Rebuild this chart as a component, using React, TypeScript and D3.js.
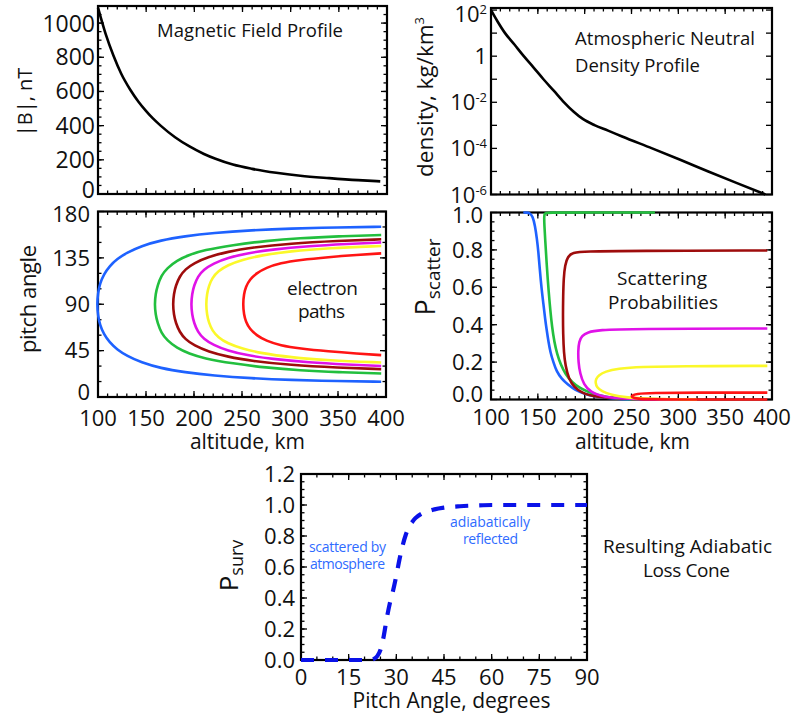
import React from "react";
import * as d3 from "d3";

// ---------------- data ----------------
// Magnetic field profile
const bAltitude = [100, 108, 116, 124, 133.5, 142, 150, 157, 165, 180, 195, 210, 222, 240, 260, 285, 310, 340, 370, 393];
const bField = [1090, 935, 810, 705, 610, 540, 485, 442, 400, 332, 278, 234, 206, 172, 147, 124, 107, 93, 81, 74];

// Atmospheric neutral density profile (kg/km^3)
const rhoAltitude = [100, 107, 115, 125, 135, 145.5, 156, 167, 178, 188, 198, 211, 225, 240, 272, 302, 332, 362, 393];
const rhoDensity = [1e2, 3.2e1, 1e1, 3.2e0, 1e0, 3.2e-1, 1e-1, 3.2e-2, 1e-2, 4e-3, 1.9e-3, 1e-3, 5.9e-4, 3.3e-4, 1e-4, 3.2e-5, 1e-5, 3.2e-6, 1e-6];

// Electron paths (altitude, upper-branch pitch, lower-branch pitch)
const blueAlt = [99, 100, 102, 106, 112, 120, 130, 145, 165, 190, 220, 260, 300, 350, 395];
const blueUp = [90, 101, 110, 119, 127, 134, 140, 146.5, 152, 156, 159.2, 161.9, 163.5, 164.6, 165.2];
const blueLo = [90, 79, 70, 61, 53, 46, 40, 33.5, 28, 24, 20.8, 18.1, 16.5, 15.4, 14.8];

const greenAlt = [159, 160, 162, 166, 172, 182, 195, 210, 240, 275, 310, 350, 395];
const greenUp = [90, 100, 108, 118, 125, 132.5, 138, 142.5, 147.5, 151.5, 154.2, 156, 157.2];
const greenLo = [90, 80, 72, 62, 55, 47.5, 42, 37.5, 32.5, 28.5, 25.8, 24, 22.8];

const darkredAlt = [178, 179, 181, 185, 191, 200, 215, 235, 260, 300, 350, 395];
const darkredUp = [90, 100, 108, 117, 124, 130, 136, 141, 145, 149, 151.5, 153];
const darkredLo = [90, 80, 72, 63, 56, 50, 44, 39, 35, 31, 28.5, 27];

const magentaAlt = [197, 198, 200, 204, 210, 220, 235, 255, 280, 320, 360, 395];
const magentaUp = [90, 100, 108, 117, 123.5, 129.5, 135, 139.5, 143, 146.5, 148.5, 150];
const magentaLo = [90, 80, 72, 63, 56.5, 50.5, 45, 40.5, 37, 33.5, 31.5, 30];

const yellowAlt = [212.5, 213.5, 215.5, 219, 225, 235, 250, 270, 300, 340, 395];
const yellowUp = [90, 100, 108, 115.5, 122, 128, 133, 137.5, 141.5, 144.5, 146.5];
const yellowLo = [90, 80, 72, 64.5, 58, 52, 47, 42.5, 38.5, 35.5, 33.5];

const redAlt = [251, 252, 254, 258, 265, 275, 290, 310, 340, 370, 395];
const redUp = [90, 100, 107, 114, 120, 125.5, 130, 133, 135.8, 137.9, 139.4];
const redLo = [90, 80, 73, 66, 60, 54.5, 50, 47, 44.2, 42.1, 40.6];

// Scattering probabilities along each path
const sBlueAlt = [250, 230, 211, 200, 190, 182, 175.5, 170, 166.6, 163.5, 161.3, 159.5, 157.8, 156, 154, 152, 150.6, 149, 147, 144.5, 141.5, 138, 134.5];
const sBlueP = [0, 0.004, 0.015, 0.03, 0.05, 0.08, 0.11, 0.15, 0.2, 0.25, 0.31, 0.37, 0.43, 0.51, 0.59, 0.7, 0.79, 0.86, 0.93, 0.98, 0.997, 1.0, 1.0];

const sGreenAlt = [260, 235, 215, 193, 179, 170, 165, 161.3, 159.5, 157.8, 157, 156.7, 157.2, 159, 200, 275];
const sGreenP = [0, 0.004, 0.02, 0.06, 0.13, 0.24, 0.38, 0.59, 0.72, 0.86, 0.93, 0.975, 0.995, 1.0, 1.0, 1.0];

const sDarkredAlt = [300, 240, 210, 197, 189, 183, 179.5, 177.8, 177, 176.8, 177, 177.6, 179, 182, 187, 200, 250, 395];
const sDarkredP = [0, 0.003, 0.015, 0.035, 0.065, 0.11, 0.18, 0.25, 0.35, 0.45, 0.55, 0.65, 0.72, 0.765, 0.785, 0.792, 0.795, 0.797];

const sMagentaAlt = [300, 250, 220, 206, 199, 195, 193.3, 193, 194, 197, 203, 215, 250, 395];
const sMagentaP = [0, 0.002, 0.012, 0.04, 0.08, 0.14, 0.2, 0.26, 0.31, 0.34, 0.36, 0.372, 0.378, 0.38];

const sYellowAlt = [320, 270, 245, 228, 218, 213, 211.5, 212, 215, 222, 235, 260, 300, 395];
const sYellowP = [0, 0.003, 0.01, 0.025, 0.045, 0.065, 0.09, 0.11, 0.13, 0.15, 0.165, 0.175, 0.178, 0.18];

const sRedAlt = [395, 300, 270, 256, 250, 250.5, 255, 270, 320, 395];
const sRedP = [0, 0, 0.001, 0.004, 0.012, 0.022, 0.03, 0.035, 0.037, 0.037];

// Survival probability vs pitch angle
const survAngle = [0, 5, 10, 15, 20, 22, 23, 24, 25, 26, 27, 28, 29, 30, 31, 32, 33, 34, 35, 36, 38, 40, 42, 45, 50, 55, 60, 70, 80, 90];
const survP = [0, 0, 0, 0, 0, 0.002, 0.008, 0.025, 0.065, 0.15, 0.27, 0.37, 0.45, 0.545, 0.65, 0.74, 0.81, 0.86, 0.89, 0.915, 0.945, 0.96, 0.972, 0.983, 0.992, 0.997, 1.0, 1.0, 1.0, 1.0];

// Tick values
const bTicks = [0, 200, 400, 600, 800, 1000];
const rhoExponents = [2, 0, -2, -4, -6];
const pitchTicks = [0, 45, 90, 135, 180];
const altTicks = [100, 150, 200, 250, 300, 350, 400];
const pTicks = [0, 0.2, 0.4, 0.6, 0.8, 1.0];
const survTicks = [0, 0.2, 0.4, 0.6, 0.8, 1.0, 1.2];
const angleTicks = [0, 15, 30, 45, 60, 75, 90];

// ---------------- styles ----------------
const FONT = "'Open Sans', 'Noto Sans', 'DejaVu Sans', sans-serif";
const COLORS = {
  blue: "#1e62ff",
  green: "#22bf3e",
  darkred: "#9e0c0c",
  magenta: "#e012e8",
  yellow: "#fbf82a",
  red: "#ff1414",
};
const ANNOT = "#2f6bff";

// ---------------- scales ----------------
const xTL = d3.scaleLinear().domain([100, 400]).range([98, 387]);
const yTL = d3.scaleLinear().domain([0, 1100]).range([194, 6]);
const xTR = d3.scaleLinear().domain([100, 400]).range([491, 772]);
const yTR = d3.scaleLog().domain([1e-6, 123]).range([194.5, 8]);
const xML = d3.scaleLinear().domain([100, 400]).range([98, 386]);
const yML = d3.scaleLinear().domain([0, 180]).range([397, 211.5]);
const xMR = d3.scaleLinear().domain([100, 400]).range([491, 772]);
const yMR = d3.scaleLinear().domain([0, 1]).range([399.5, 212.5]);
const xB = d3.scaleLinear().domain([0, 90]).range([301, 587]);
const yB = d3.scaleLinear().domain([0, 1.2]).range([660, 474]);

type Sc = (v: number) => number;

function Frame(props: {
  x: any; y: any; xMajor: number[]; xMinor: number[]; yMajor: number[]; yMinor: number[];
}) {
  const { x, y, xMajor, xMinor, yMajor, yMinor } = props;
  const [x0, x1] = x.range();
  const [y1, y0] = y.range();
  const M = 6, m = 3.5;
  const els: any[] = [];
  xMinor.forEach((v, i) => {
    const px = x(v);
    els.push(<line key={"xn" + i} x1={px} x2={px} y1={y1} y2={y1 - m} />);
    els.push(<line key={"xnt" + i} x1={px} x2={px} y1={y0} y2={y0 + m} />);
  });
  xMajor.forEach((v, i) => {
    const px = x(v);
    els.push(<line key={"xm" + i} x1={px} x2={px} y1={y1} y2={y1 - M} />);
    els.push(<line key={"xmt" + i} x1={px} x2={px} y1={y0} y2={y0 + M} />);
  });
  yMinor.forEach((v, i) => {
    const py = y(v);
    els.push(<line key={"yn" + i} x1={x0} x2={x0 + m} y1={py} y2={py} />);
    els.push(<line key={"ynr" + i} x1={x1} x2={x1 - m} y1={py} y2={py} />);
  });
  yMajor.forEach((v, i) => {
    const py = y(v);
    els.push(<line key={"ym" + i} x1={x0} x2={x0 + M} y1={py} y2={py} />);
    els.push(<line key={"ymr" + i} x1={x1} x2={x1 - M} y1={py} y2={py} />);
  });
  return (
    <g stroke="#000" fill="none">
      <g strokeWidth={1.3}>{els}</g>
      <rect x={x0} y={y0} width={x1 - x0} height={y1 - y0} strokeWidth={2.2} />
    </g>
  );
}

function pathFrom(xs: Sc, ys: Sc, a: number[], b: number[], curve: any) {
  const pts = a.map((v, i) => [v, b[i]] as [number, number]);
  return d3.line<[number, number]>().x((d) => xs(d[0])).y((d) => ys(d[1])).curve(curve)(pts) || "";
}

function electronPath(alt: number[], up: number[], lo: number[]) {
  const a = [...alt.slice(1).reverse(), ...alt];
  const p = [...lo.slice(1).reverse(), ...up];
  return pathFrom(xML, yML, a, p, d3.curveBasis);
}

const range = (a: number, b: number, s: number) => d3.range(a, b + s / 2, s);

function T(props: any) {
  const { children, fill, ...rest } = props;
  return (
    <text fontFamily={FONT} fill={fill || "#111"} lengthAdjust="spacing" {...rest}>
      {children}
    </text>
  );
}

export default function App() {
  const electronPaths = [
    { c: COLORS.blue, d: electronPath(blueAlt, blueUp, blueLo) },
    { c: COLORS.green, d: electronPath(greenAlt, greenUp, greenLo) },
    { c: COLORS.darkred, d: electronPath(darkredAlt, darkredUp, darkredLo) },
    { c: COLORS.magenta, d: electronPath(magentaAlt, magentaUp, magentaLo) },
    { c: COLORS.yellow, d: electronPath(yellowAlt, yellowUp, yellowLo) },
    { c: COLORS.red, d: electronPath(redAlt, redUp, redLo) },
  ];
  const cb = d3.curveBasis;
  const scatterPaths = [
    { c: COLORS.blue, d: pathFrom(xMR, yMR, sBlueAlt, sBlueP, cb) },
    { c: COLORS.green, d: pathFrom(xMR, yMR, sGreenAlt, sGreenP, cb) },
    { c: COLORS.darkred, d: pathFrom(xMR, yMR, sDarkredAlt, sDarkredP, cb) },
    { c: COLORS.magenta, d: pathFrom(xMR, yMR, sMagentaAlt, sMagentaP, cb) },
    { c: COLORS.yellow, d: pathFrom(xMR, yMR, sYellowAlt, sYellowP, cb) },
    { c: COLORS.red, d: pathFrom(xMR, yMR, sRedAlt, sRedP, cb) },
  ];

  const bPath = pathFrom(xTL, yTL, bAltitude, bField, d3.curveMonotoneX);
  const rhoPath = pathFrom(xTR, yTR, rhoAltitude, rhoDensity, d3.curveMonotoneX);
  const survPath = pathFrom(xB, yB, survAngle, survP, d3.curveMonotoneX);

  const nudge = (v: number, lo: number, hi: number, dLo: number, dHi: number) =>
    v === lo ? dLo : v === hi ? dHi : 0;

  return (
    <svg width={793} height={713} style={{ position: "absolute", left: 0, top: 0, background: "#fff" }}>
      <rect x={0} y={0} width={793} height={713} fill="#fff" />

      {/* ---------- Top-left: magnetic field ---------- */}
      <Frame x={xTL} y={yTL} xMajor={range(150, 350, 50)} xMinor={range(110, 390, 10)}
        yMajor={bTicks} yMinor={range(50, 1050, 50)} />
      <path d={bPath} fill="none" stroke="#000" strokeWidth={2.6} />
      {bTicks.map((v) => (
        <T key={v} x={95} y={yTL(v) + 8 + nudge(v, 0, 1000, -4, 1)} textAnchor="end" fontSize={23}>{v}</T>
      ))}
      <T x={157} y={37} fontSize={18.5} textLength={186}>Magnetic Field Profile</T>
      <T transform="translate(32,102) rotate(-90)" textAnchor="middle" fontSize={20}>|B|, nT</T>

      {/* ---------- Top-right: density ---------- */}
      <Frame x={xTR} y={yTR} xMajor={range(150, 350, 50)} xMinor={range(110, 390, 10)}
        yMajor={d3.range(-6, 3).map((e) => Math.pow(10, e))} yMinor={[]} />
      <path d={rhoPath} fill="none" stroke="#000" strokeWidth={2.6} />
      {rhoExponents.map((e) => (
        <T key={e} x={487} y={yTR(Math.pow(10, e)) + 8 + (e === 2 ? 4 : 0)} textAnchor="end" fontSize={22}>
          {e === 0 ? "1" : (
            <>
              <tspan>10</tspan>
              <tspan dy={-8} fontSize={13}>{e < 0 ? "-" + Math.abs(e) : String(e)}</tspan>
            </>
          )}
        </T>
      ))}
      <T x={575} y={45} fontSize={18.5} textLength={180}>Atmospheric Neutral</T>
      <T x={575} y={71.5} fontSize={18.5} textLength={125}>Density Profile</T>
      <T transform="translate(433,97) rotate(-90)" textAnchor="middle" fontSize={22.5}>
        density, kg/km<tspan dy={-9} fontSize={13}>3</tspan>
      </T>

      {/* ---------- Middle-left: electron paths ---------- */}
      <Frame x={xML} y={yML} xMajor={altTicks} xMinor={range(110, 390, 10)}
        yMajor={pitchTicks} yMinor={range(15, 165, 15)} />
      {electronPaths.map((p, i) => (
        <path key={i} d={p.d} fill="none" stroke={p.c} strokeWidth={2.6} />
      ))}
      {pitchTicks.map((v) => (
        <T key={v} x={90} y={yML(v) + 7.8 + nudge(v, 0, 180, -5, 3)} textAnchor="end" fontSize={22}>{v}</T>
      ))}
      {altTicks.map((v) => (
        <T key={v} x={xML(v)} y={426} textAnchor="middle" fontSize={22}>{v}</T>
      ))}
      <T x={247.5} y={449} textAnchor="middle" fontSize={21} textLength={115}>altitude, km</T>
      <T transform="translate(36,299) rotate(-90)" textAnchor="middle" fontSize={22} textLength={108}>pitch angle</T>
      <T x={322.5} y={295} textAnchor="middle" fontSize={19} textLength={71}>electron</T>
      <T x={321.5} y={318} textAnchor="middle" fontSize={19} textLength={47}>paths</T>

      {/* ---------- Middle-right: scattering probabilities ---------- */}
      <Frame x={xMR} y={yMR} xMajor={altTicks} xMinor={range(110, 390, 10)}
        yMajor={pTicks} yMinor={range(0.05, 0.95, 0.05)} />
      {scatterPaths.map((p, i) => (
        <path key={i} d={p.d} fill="none" stroke={p.c} strokeWidth={2.6} />
      ))}
      {pTicks.map((v) => (
        <T key={v} x={483} y={yMR(v) + 7.8 + nudge(v, 0, 1, -5, 2.5)} textAnchor="end" fontSize={22}>{v.toFixed(1)}</T>
      ))}
      {altTicks.map((v) => (
        <T key={v} x={xMR(v)} y={425} textAnchor="middle" fontSize={22}>{v}</T>
      ))}
      <T x={632.5} y={449} textAnchor="middle" fontSize={21} textLength={115}>altitude, km</T>
      <T transform="translate(435,277) rotate(-90)" textAnchor="middle" fontSize={27}>
        P<tspan dy={5} fontSize={19}>scatter</tspan>
      </T>
      <T x={662} y={285} textAnchor="middle" fontSize={19} textLength={90}>Scattering</T>
      <T x={663} y={308.5} textAnchor="middle" fontSize={19} textLength={110}>Probabilities</T>

      {/* ---------- Bottom: survival probability ---------- */}
      <Frame x={xB} y={yB} xMajor={angleTicks} xMinor={range(5, 85, 5)}
        yMajor={survTicks} yMinor={range(0.05, 1.15, 0.05)} />
      <path d={survPath} fill="none" stroke="#0a12e8" strokeWidth={4.2} strokeDasharray="13 11" />
      {survTicks.map((v) => (
        <T key={v} x={295} y={yB(v) + 7.8} textAnchor="end" fontSize={22}>{v.toFixed(1)}</T>
      ))}
      {angleTicks.map((v) => (
        <T key={v} x={xB(v)} y={685} textAnchor="middle" fontSize={22}>{v}</T>
      ))}
      <T x={451.5} y={708} textAnchor="middle" fontSize={21} textLength={198}>Pitch Angle, degrees</T>
      <T transform="translate(238,565.5) rotate(-90)" textAnchor="middle" fontSize={26}>
        P<tspan dy={5} fontSize={18}>surv</tspan>
      </T>
      <T x={309} y={551.5} fontSize={14} textLength={77} fill={ANNOT}>scattered by</T>
      <T x={310} y={568.5} fontSize={14} textLength={75} fill={ANNOT}>atmosphere</T>
      <T x={490} y={526.5} textAnchor="middle" fontSize={14} textLength={80} fill={ANNOT}>adiabatically</T>
      <T x={490.5} y={544} textAnchor="middle" fontSize={14} textLength={55} fill={ANNOT}>reflected</T>
      <T x={687.5} y={553} textAnchor="middle" fontSize={19} textLength={169}>Resulting Adiabatic</T>
      <T x={686.5} y={576.5} textAnchor="middle" fontSize={19} textLength={87}>Loss Cone</T>
    </svg>
  );
}
